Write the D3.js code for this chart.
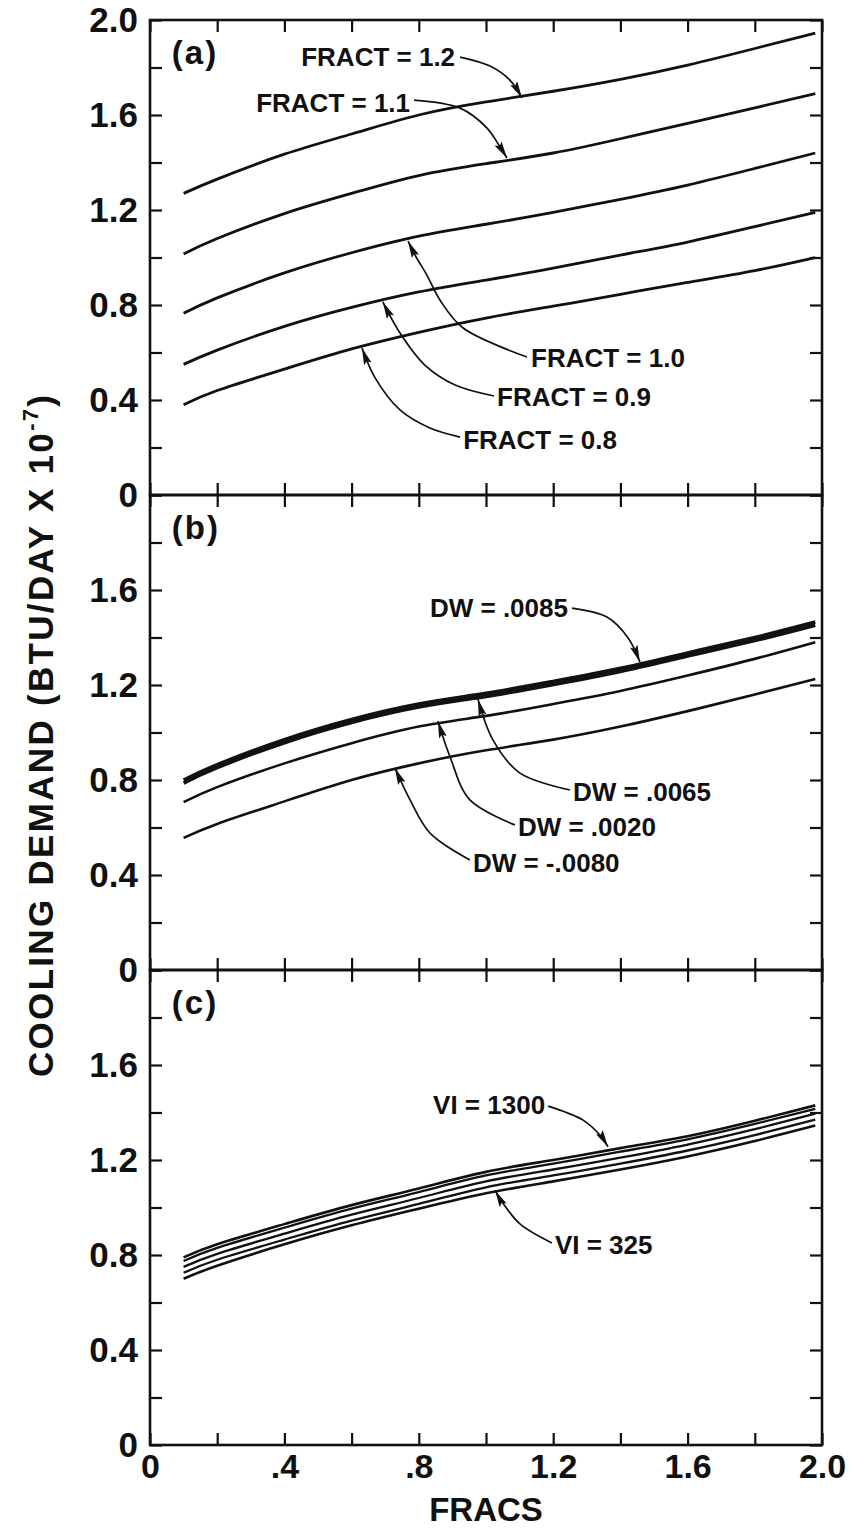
<!DOCTYPE html>
<html>
<head>
<meta charset="utf-8">
<script src="https://cdn.jsdelivr.net/npm/d3@7"></script>
<style>
  body { margin: 0; background: #fff; }
  svg { display: block; }
  text { font-family: "Liberation Sans", Arial, Helvetica, sans-serif; font-weight: bold; fill: #111; }
</style>
</head>
<body>
<div id="chart"></div>
<script>
// x positions (FRACS) shared by every curve
var fracs = [0.1, 0.2, 0.4, 0.6, 0.8, 1.0, 1.2, 1.4, 1.6, 1.8, 1.98];

// (a) FRACT curves
var fract12 = [1.27, 1.33, 1.435, 1.52, 1.60, 1.655, 1.70, 1.75, 1.81, 1.88, 1.945];
var fract11 = [1.015, 1.08, 1.185, 1.27, 1.345, 1.395, 1.44, 1.50, 1.565, 1.63, 1.69];
var fract10 = [0.765, 0.83, 0.935, 1.02, 1.09, 1.14, 1.19, 1.245, 1.305, 1.375, 1.44];
var fract09 = [0.55, 0.61, 0.71, 0.79, 0.855, 0.905, 0.955, 1.01, 1.065, 1.13, 1.19];
var fract08 = [0.38, 0.44, 0.53, 0.615, 0.685, 0.745, 0.795, 0.845, 0.895, 0.945, 1.00];

// (b) DW curves
var dw0085 = [0.80, 0.865, 0.97, 1.055, 1.12, 1.165, 1.215, 1.27, 1.335, 1.40, 1.465];
var dw0065 = [0.787, 0.852, 0.957, 1.042, 1.107, 1.152, 1.202, 1.257, 1.322, 1.387, 1.452];
var dw0020 = [0.707, 0.77, 0.87, 0.955, 1.025, 1.07, 1.12, 1.175, 1.24, 1.31, 1.38];
var dwm0080 = [0.556, 0.615, 0.71, 0.80, 0.87, 0.925, 0.97, 1.025, 1.09, 1.16, 1.225];

// (c) VI curves, top (VI=1300) to bottom (VI=325)
var vi1300 = [0.79, 0.845, 0.93, 1.01, 1.08, 1.15, 1.20, 1.25, 1.30, 1.365, 1.43];
var viB = [0.775, 0.83, 0.915, 0.995, 1.065, 1.135, 1.185, 1.235, 1.287, 1.352, 1.415];
var viC = [0.75, 0.805, 0.89, 0.97, 1.04, 1.11, 1.16, 1.21, 1.265, 1.33, 1.395];
var viD = [0.725, 0.78, 0.865, 0.945, 1.015, 1.085, 1.135, 1.185, 1.24, 1.305, 1.37];
var vi325 = [0.70, 0.755, 0.845, 0.925, 0.995, 1.06, 1.11, 1.16, 1.215, 1.28, 1.345];

// axis ticks
var yTicks = [0, 0.2, 0.4, 0.6, 0.8, 1.0, 1.2, 1.4, 1.6, 1.8, 2.0];
var xTicks = [0, 0.2, 0.4, 0.6, 0.8, 1.0, 1.2, 1.4, 1.6, 1.8, 2.0];
var yLabelsA = [0, 0.4, 0.8, 1.2, 1.6, 2.0];
var yLabelsBC = [0, 0.4, 0.8, 1.2, 1.6];
var xLabels = [0, 0.4, 0.8, 1.2, 1.6, 2.0];

var svgWidth = 854;
var svgHeight = 1530;
var left = 150, right = 822;

var svg = d3.select("#chart").append("svg")
  .attr("width", svgWidth)
  .attr("height", svgHeight);

svg.append("rect").attr("width", svgWidth).attr("height", svgHeight).attr("fill", "#fff");

svg.append("defs").append("marker")
  .attr("id", "head")
  .attr("markerUnits", "userSpaceOnUse")
  .attr("viewBox", "0 0 17 8")
  .attr("markerWidth", 17)
  .attr("markerHeight", 8)
  .attr("refX", 17)
  .attr("refY", 4)
  .attr("orient", "auto")
  .append("path")
  .attr("d", "M0,0 L17,4 L0,8 L3,4 Z")
  .attr("fill", "#111");

var x = d3.scaleLinear().domain([0, 2]).range([left, right]);

// panels: top / bottom in pixels
var panels = [
  {
    key: "(a)", top: 20, bottom: 495, yLabels: yLabelsA,
    series: [
      { values: fract12, w: 2.8 }, { values: fract11, w: 2.8 }, { values: fract10, w: 2.8 },
      { values: fract09, w: 2.8 }, { values: fract08, w: 2.8 }
    ],
    notes: [
      { text: "FRACT = 1.2", at: [0.908, 1.844], anchor: "end",
        arrow: [[0.923, 1.844], [1.012, 1.806], [1.071, 1.747], [1.107, 1.672]] },
      { text: "FRACT = 1.1", at: [0.774, 1.651], anchor: "end",
        arrow: [[0.786, 1.663], [0.923, 1.629], [1.003, 1.545], [1.042, 1.465], [1.0625, 1.419]] },
      { text: "FRACT = 1.0", at: [1.134, 0.577], anchor: "start",
        arrow: [[1.122, 0.581], [0.932, 0.703], [0.863, 0.821], [0.824, 0.926], [0.792, 1.002], [0.768, 1.069]] },
      { text: "FRACT = 0.9", at: [1.033, 0.413], anchor: "start",
        arrow: [[1.024, 0.417], [0.908, 0.463], [0.818, 0.547], [0.744, 0.682], [0.693, 0.813]] },
      { text: "FRACT = 0.8", at: [0.932, 0.232], anchor: "start",
        arrow: [[0.923, 0.244], [0.833, 0.282], [0.744, 0.358], [0.670, 0.493], [0.631, 0.619]] }
    ]
  },
  {
    key: "(b)", top: 495, bottom: 970, yLabels: yLabelsBC,
    series: [
      { values: dw0085, w: 3.6 }, { values: dw0065, w: 3.6 },
      { values: dw0020, w: 2.6 }, { values: dwm0080, w: 2.6 }
    ],
    notes: [
      { text: "DW = .0085", at: [1.244, 1.524], anchor: "end",
        arrow: [[1.256, 1.524], [1.360, 1.486], [1.423, 1.398], [1.458, 1.297]] },
      { text: "DW = .0065", at: [1.259, 0.749], anchor: "start",
        arrow: [[1.25, 0.758], [1.101, 0.829], [1.021, 0.968], [0.976, 1.140]] },
      { text: "DW = .0020", at: [1.095, 0.602], anchor: "start",
        arrow: [[1.086, 0.611], [0.952, 0.716], [0.893, 0.897], [0.857, 1.048]] },
      { text: "DW = -.0080", at: [0.961, 0.451], anchor: "start",
        arrow: [[0.952, 0.463], [0.833, 0.577], [0.774, 0.716], [0.729, 0.851]] }
    ]
  },
  {
    key: "(c)", top: 970, bottom: 1445, yLabels: yLabelsBC,
    series: [
      { values: vi1300, w: 2.6 }, { values: viB, w: 2.3 }, { values: viC, w: 2.3 },
      { values: viD, w: 2.3 }, { values: vi325, w: 2.6 }
    ],
    notes: [
      { text: "VI = 1300", at: [1.176, 1.432], anchor: "end",
        arrow: [[1.185, 1.427], [1.289, 1.368], [1.339, 1.305], [1.363, 1.256]] },
      { text: "VI = 325", at: [1.205, 0.842], anchor: "start",
        arrow: [[1.196, 0.851], [1.101, 0.931], [1.048, 1.023], [1.027, 1.072]] }
    ]
  }
];

function fmtY(d) { return d === 0 ? "0" : d3.format(".1f")(d); }
function fmtX(d) { return d === 0 ? "0" : (d < 1 ? d3.format(".1f")(d).replace(/^0/, "") : d3.format(".1f")(d)); }

function styleTicks(a) {
  a.select(".domain").remove();
  a.selectAll("line").attr("stroke", "#111").attr("stroke-width", 2.2);
}

panels.forEach(function(p, i) {
  var y = d3.scaleLinear().domain([0, 2]).range([p.bottom, p.top]);
  var g = svg.append("g");

  // inward minor ticks on all four sides
  g.append("g").attr("transform", "translate(" + left + ",0)")
    .call(d3.axisLeft(y).tickValues(yTicks).tickSizeInner(-12).tickSizeOuter(0).tickPadding(12)
      .tickFormat(function(d) { return p.yLabels.indexOf(d) >= 0 ? fmtY(d) : ""; }))
    .call(styleTicks)
    .call(function(a) {
      a.selectAll("text").attr("font-size", 35).attr("fill", "#111")
        .attr("font-family", "'Liberation Sans', Arial, sans-serif").attr("font-weight", "bold");
    });

  g.append("g").attr("transform", "translate(" + right + ",0)")
    .call(d3.axisRight(y).tickValues(yTicks).tickSizeInner(-12).tickSizeOuter(0).tickFormat(""))
    .call(styleTicks);

  g.append("g").attr("transform", "translate(0," + p.top + ")")
    .call(d3.axisTop(x).tickValues(xTicks).tickSizeInner(-12).tickSizeOuter(0).tickFormat(""))
    .call(styleTicks);

  var last = i === panels.length - 1;
  g.append("g").attr("transform", "translate(0," + p.bottom + ")")
    .call(d3.axisBottom(x).tickValues(xTicks).tickSizeInner(-12).tickSizeOuter(0).tickPadding(9)
      .tickFormat(function(d) { return last && xLabels.indexOf(d) >= 0 ? fmtX(d) : ""; }))
    .call(styleTicks)
    .call(function(a) {
      a.selectAll("text").attr("font-size", 34).attr("fill", "#111")
        .attr("font-family", "'Liberation Sans', Arial, sans-serif").attr("font-weight", "bold");
    });

  // frame
  g.append("rect")
    .attr("x", left).attr("y", p.top)
    .attr("width", right - left).attr("height", p.bottom - p.top)
    .attr("fill", "none").attr("stroke", "#111").attr("stroke-width", 2.6);

  // panel letter
  g.append("text")
    .attr("x", x(0.065)).attr("y", y(1.815))
    .attr("font-size", 33).attr("letter-spacing", 2)
    .text(p.key);

  // curves
  var line = d3.line()
    .x(function(d, j) { return x(fracs[j]); })
    .y(function(d) { return y(d); })
    .curve(d3.curveNatural);

  g.selectAll(".curve").data(p.series).enter().append("path")
    .attr("class", "curve")
    .attr("d", function(s) { return line(s.values); })
    .attr("fill", "none")
    .attr("stroke", "#111")
    .attr("stroke-width", function(s) { return s.w; })
    .attr("stroke-linecap", "butt");

  // annotations
  var arrowLine = d3.line()
    .x(function(d) { return x(d[0]); })
    .y(function(d) { return y(d[1]); })
    .curve(d3.curveCatmullRom.alpha(0.5));

  p.notes.forEach(function(n) {
    g.append("path")
      .attr("d", arrowLine(n.arrow))
      .attr("fill", "none")
      .attr("stroke", "#111")
      .attr("stroke-width", 1.7)
      .attr("marker-end", "url(#head)");
    g.append("text")
      .attr("x", x(n.at[0]))
      .attr("y", y(n.at[1]))
      .attr("dy", "0.36em")
      .attr("text-anchor", n.anchor)
      .attr("font-size", 26)
      .text(n.text);
  });
});

// x axis title
svg.append("text")
  .attr("x", x(1.0))
  .attr("y", 1521)
  .attr("text-anchor", "middle")
  .attr("font-size", 33)
  .text("FRACS");

// y axis title, rotated
var yt = svg.append("text")
  .attr("transform", "translate(53,1077) rotate(-90)")
  .attr("font-size", 35)
  .attr("textLength", 682)
  .attr("lengthAdjust", "spacing");
yt.append("tspan").text("COOLING DEMAND (BTU/DAY X 10");
yt.append("tspan").attr("font-size", 22).attr("dy", -15).text("-7");
yt.append("tspan").attr("dy", 15).text(")");
</script>
</body>
</html>
